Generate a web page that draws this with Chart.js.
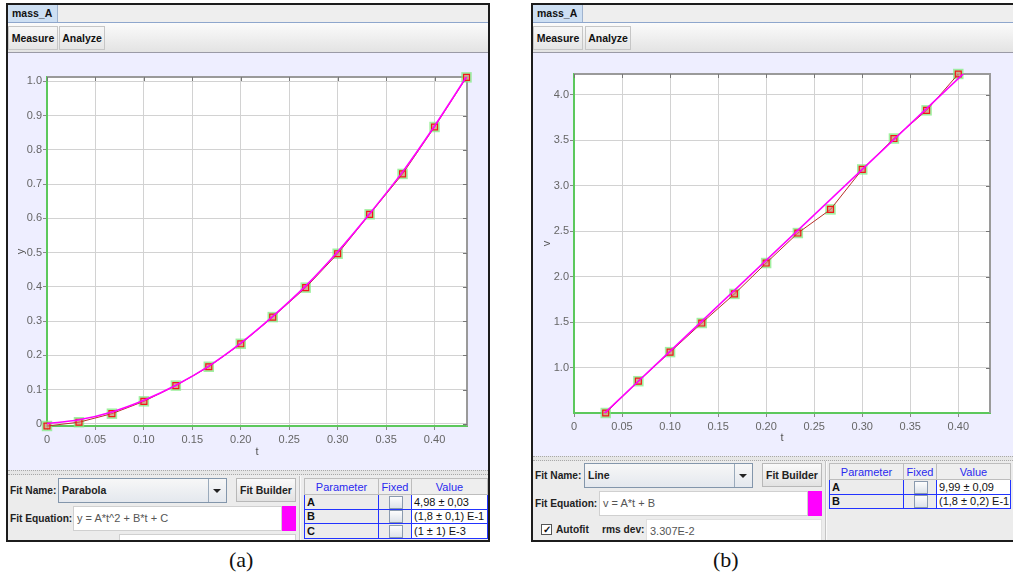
<!DOCTYPE html>
<html lang="en">
<head>
<meta charset="UTF-8">
<title>mass_A fits</title>
<script src="https://cdn.jsdelivr.net/npm/chart.js@4.4.0/dist/chart.umd.min.js"></script>
<style>
body { margin:0; width:1013px; height:582px; background:#fff; position:relative; overflow:hidden;
       font-family:"Liberation Sans", Arial, sans-serif; font-size:11px; color:#111; }
.panel { position:absolute; top:3px; height:539px; border:2px solid #1c1c1c; background:#ececec; overflow:hidden; box-sizing:border-box; }
.a { position:absolute; box-sizing:border-box; }
.tabbar { left:0; top:0; width:100%; height:18px; background:#eeeeee; border-bottom:1px solid #8ea6cc; }
.tab { left:0; top:0; width:50px; height:17px; background:#cddff3; border-right:1px solid #9fb3cf; font-weight:bold; font-size:10.5px; line-height:16px; padding-left:4px; }
.toolbar { left:0; top:18px; width:100%; height:30px; background:linear-gradient(#fbfbfb,#e3e3e3); border-bottom:1px solid #9a9aa6; }
.tbtn { top:3px; height:24px; border:1px solid #c6c6c6; font-weight:bold; font-size:10.5px; line-height:22px; text-align:center; }
.plot { left:0; top:48px; width:100%; background:#eeeeff; }
.divider { left:0; width:100%; height:5px; background:#e6e6e6; border-top:1px dotted #a8a8a8; border-bottom:1px dotted #a8a8a8; }
.lbl { font-weight:bold; font-size:10.2px; white-space:nowrap; color:#222; }
.combo { width:169px; height:25px; border:1px solid #8396ab; background:linear-gradient(#f7f7f7,#e4e8ee); font-weight:bold; font-size:10.5px; line-height:23px; padding-left:3px; color:#222; }
.combo .arr { position:absolute; right:0; top:0; width:17px; height:23px; border-left:1px solid #9aaabb; }
.combo .arr:after { content:""; position:absolute; left:4px; top:10px; border-left:4px solid transparent; border-right:4px solid transparent; border-top:4px solid #222; }
.btn { width:60px; height:24px; border:1px solid #b8b8b8; background:linear-gradient(#fafafa,#e2e2e2); font-weight:bold; font-size:10.5px; text-align:center; line-height:22px; color:#222; }
.field { height:25px; background:#fff; border:1px solid #d0d0d0; color:#555; line-height:23px; padding-left:3px; white-space:nowrap; }
.swatch { width:14px; height:25px; background:#ff00ff; }
table.par { position:absolute; border-collapse:collapse; font-size:11px; background:#ececec; table-layout:fixed; }
table.par th { height:15px; font-weight:normal; color:#2a2aee; border:1px solid #bdbdbd; background:#eeeeee; padding:0; }
table.par td { height:13px; border:1.5px solid #2233ff; padding:0 0 0 2px; white-space:nowrap; }
table.par td.p { font-weight:bold; background:#ececec; }
table.par td.f { background:#ececec; text-align:center; }
table.par td.v { background:#fff; }
.cb { display:inline-block; width:12px; height:11px; border:1px solid #8a9aae; background:linear-gradient(#fdfdfd,#dde3ea); vertical-align:middle; }
.vsplit { width:2px; border-left:1px solid #c4c4c4; border-right:1px solid #fafafa; }
.cap { position:absolute; top:547px; font-family:"Liberation Serif", "Times New Roman", serif; font-size:22px; color:#111; }
</style>
</head>
<body>

<!-- panel (a) -->
<div class="panel" style="left:6px; width:484px;">
  <div class="a tabbar"></div>
  <div class="a tab">mass_A</div>
  <div class="a toolbar">
    <div class="a tbtn" style="left:0; width:50px;">Measure</div>
    <div class="a tbtn" style="left:51px; width:46px;">Analyze</div>
  </div>
  <div class="a plot" style="height:417px;">
    <canvas id="posChart" width="480" height="417"></canvas>
  </div>
  <div class="a divider" style="top:465px;"></div>
  <div class="a lbl" style="left:2px; top:480px;">Fit Name:</div>
  <div class="a combo" style="left:50px; top:473px;">Parabola<div class="arr"></div></div>
  <div class="a btn" style="left:228px; top:473px;">Fit Builder</div>
  <div class="a lbl" style="left:2px; top:508px;">Fit Equation:</div>
  <div class="a field" style="left:65px; top:501px; width:209px;">y = A*t^2 + B*t + C</div>
  <div class="a swatch" style="left:274px; top:501px;"></div>
  <div class="a field" style="left:111px; top:529px; width:177px;"></div>
  <div class="a vsplit" style="left:291px; top:471px; height:70px;"></div>
  <table class="par" style="left:296px; top:473px; width:183px;">
    <colgroup><col style="width:74px"><col style="width:33px"><col style="width:76px"></colgroup>
    <tr><th>Parameter</th><th>Fixed</th><th>Value</th></tr>
    <tr><td class="p">A</td><td class="f"><span class="cb"></span></td><td class="v">4,98 ± 0,03</td></tr>
    <tr><td class="p">B</td><td class="f"><span class="cb"></span></td><td class="v">(1,8 ± 0,1) E-1</td></tr>
    <tr><td class="p">C</td><td class="f"><span class="cb"></span></td><td class="v">(1 ± 1) E-3</td></tr>
  </table>
</div>

<!-- panel (b) -->
<div class="panel" style="left:531px; width:486px;">
  <div class="a tabbar"></div>
  <div class="a tab">mass_A</div>
  <div class="a toolbar">
    <div class="a tbtn" style="left:0; width:50px;">Measure</div>
    <div class="a tbtn" style="left:52px; width:46px;">Analyze</div>
  </div>
  <div class="a plot" style="height:403px;">
    <canvas id="velChart" width="480" height="403"></canvas>
  </div>
  <div class="a divider" style="top:451px;"></div>
  <div class="a lbl" style="left:2px; top:465px;">Fit Name:</div>
  <div class="a combo" style="left:51px; top:458px;">Line<div class="arr"></div></div>
  <div class="a btn" style="left:229px; top:458px;">Fit Builder</div>
  <div class="a lbl" style="left:2px; top:493px;">Fit Equation:</div>
  <div class="a field" style="left:66px; top:486px; width:209px;">v = A*t + B</div>
  <div class="a swatch" style="left:275px; top:486px;"></div>
  <div class="a" style="left:8px; top:519px; width:11px; height:11px; border:1px solid #555; background:#fff; font-size:10px; line-height:9px; text-align:center; font-weight:bold;">✓</div>
  <div class="a lbl" style="left:23px; top:519px;">Autofit</div>
  <div class="a lbl" style="left:69px; top:519px;">rms dev:</div>
  <div class="a field" style="left:113px; top:514px; width:176px; height:24px; border-color:#e0e0e0;">3.307E-2</div>
  <div class="a vsplit" style="left:292px; top:456px; height:85px;"></div>
  <table class="par" style="left:296px; top:458px; width:181px;">
    <colgroup><col style="width:74px"><col style="width:33px"><col style="width:74px"></colgroup>
    <tr><th>Parameter</th><th>Fixed</th><th>Value</th></tr>
    <tr><td class="p">A</td><td class="f"><span class="cb"></span></td><td class="v">9,99 ± 0,09</td></tr>
    <tr><td class="p">B</td><td class="f"><span class="cb"></span></td><td class="v">(1,8 ± 0,2) E-1</td></tr>
  </table>
</div>

<div class="cap" style="left:229px;">(a)</div>
<div class="cap" style="left:713px;">(b)</div>

<script>
// position data (panel a)
const posT = [0, 0.033, 0.067, 0.100, 0.133, 0.167, 0.200, 0.233, 0.267, 0.300, 0.333, 0.367, 0.400, 0.433];
const posY = [-0.006, 0.005, 0.030, 0.066, 0.112, 0.167, 0.234, 0.312, 0.398, 0.497, 0.612, 0.730, 0.867, 1.012];
const posFitY = [0.001, 0.012, 0.035, 0.069, 0.113, 0.169, 0.236, 0.314, 0.403, 0.503, 0.614, 0.736, 0.870, 1.014];

// velocity data (panel b)
const velT = [0.033, 0.067, 0.100, 0.133, 0.167, 0.200, 0.233, 0.267, 0.300, 0.333, 0.367, 0.400];
const velV = [0.50, 0.85, 1.17, 1.49, 1.81, 2.15, 2.48, 2.74, 3.18, 3.52, 3.83, 4.23];
const velFitT = [0, 0.433];
const velFitV = [0.18, 4.51];

// tick labels
const tTicks = [0, 0.05, 0.10, 0.15, 0.20, 0.25, 0.30, 0.35, 0.40];
const tLabels = ['0', '0.05', '0.10', '0.15', '0.20', '0.25', '0.30', '0.35', '0.40'];
const yTicks = [0, 0.1, 0.2, 0.3, 0.4, 0.5, 0.6, 0.7, 0.8, 0.9, 1.0];
const yLabels = ['0', '0.1', '0.2', '0.3', '0.4', '0.5', '0.6', '0.7', '0.8', '0.9', '1.0'];
const vTicks = [1.0, 1.5, 2.0, 2.5, 3.0, 3.5, 4.0];
const vLabels = ['1.0', '1.5', '2.0', '2.5', '3.0', '3.5', '4.0'];

const tickFont = { family: '"Liberation Sans", Arial, sans-serif', size: 11 };

// white plot area, gray top/right frame with little inward ticks
const framePlugin = {
    id: 'frame',
    beforeDraw(chart) {
        const a = chart.chartArea;
        chart.ctx.save();
        chart.ctx.fillStyle = '#fff';
        chart.ctx.fillRect(a.left, a.top, a.right - a.left, a.bottom - a.top);
        chart.ctx.restore();
    },
    beforeDatasetsDraw(chart) {
        const ctx = chart.ctx, a = chart.chartArea, sx = chart.scales.x, sy = chart.scales.y;
        ctx.save();
        ctx.strokeStyle = '#9a9a9a';
        ctx.lineWidth = 2;
        ctx.beginPath();
        ctx.moveTo(a.left, a.top);
        ctx.lineTo(a.right, a.top);
        ctx.lineTo(a.right, a.bottom);
        ctx.stroke();
        ctx.lineWidth = 1;
        ctx.strokeStyle = '#777';
        ctx.beginPath();
        sx.ticks.forEach(t => {
            const px = Math.round(sx.getPixelForValue(t.value)) + 0.5;
            ctx.moveTo(px, a.top); ctx.lineTo(px, a.top + 4);
        });
        sy.ticks.forEach(t => {
            const py = Math.round(sy.getPixelForValue(t.value)) + 0.5;
            ctx.moveTo(a.right, py); ctx.lineTo(a.right - 4, py);
        });
        ctx.stroke();
        ctx.restore();
    }
};

function pts(xs, ys) {
    return xs.map((x, i) => ({ x: x, y: ys[i] }));
}

function makeChart(id, o) {
    const grid = { color: '#d2d2d2', lineWidth: 1, tickColor: '#888', tickLength: 4 };
    const border = { color: '#5cc85c', width: 2 };
    return new Chart(document.getElementById(id), {
        type: 'line',
        data: {
            datasets: [{
                // fit curve, on top
                data: pts(o.fitT, o.fitY),
                borderColor: '#ff00ff',
                borderWidth: 1.6,
                pointRadius: 0,
                cubicInterpolationMode: 'monotone'
            }, {
                // measured points joined by a thin line
                data: pts(o.t, o.y),
                borderColor: '#b8302a',
                borderWidth: 1,
                pointStyle: 'rect',
                pointRadius: 4.2,
                pointBackgroundColor: 'rgba(255,110,130,0.5)',
                pointBorderColor: '#f01818',
                pointBorderWidth: 1.2,
                clip: false
            }, {
                // green selection halo
                data: pts(o.t, o.y),
                showLine: false,
                pointStyle: 'rect',
                pointRadius: 7.4,
                pointBackgroundColor: 'rgba(130,235,130,0.75)',
                pointBorderWidth: 0,
                clip: false
            }]
        },
        options: {
            responsive: false,
            animation: false,
            events: [],
            layout: { padding: { top: o.padTop, right: o.padRight, left: 0, bottom: 0 } },
            plugins: { legend: { display: false }, tooltip: { enabled: false } },
            scales: {
                x: {
                    type: 'linear',
                    min: 0,
                    max: o.xMax,
                    afterBuildTicks: s => { s.ticks = tTicks.map(v => ({ value: v })); },
                    afterFit: s => { s.height = o.xAxisH; },
                    ticks: { callback: (v, i) => tLabels[i], color: '#666', font: tickFont, padding: 3, maxRotation: 0, autoSkip: false },
                    grid: grid,
                    border: border,
                    title: { display: true, text: 't', color: '#555', font: tickFont, padding: { top: 0, bottom: 11 } }
                },
                y: {
                    type: 'linear',
                    min: o.yMin,
                    max: o.yMax,
                    afterBuildTicks: s => { s.ticks = o.yTicks.map(v => ({ value: v })); },
                    afterFit: s => { s.width = o.yAxisW; },
                    ticks: { callback: (v, i) => o.yLabels[i], color: '#666', font: tickFont, padding: 1, autoSkip: false },
                    grid: grid,
                    border: border,
                    title: { display: true, text: o.yTitle, color: '#555', font: tickFont, padding: { top: o.yTitlePad, bottom: o.yTitlePad } }
                }
            }
        },
        plugins: [framePlugin]
    });
}

makeChart('posChart', {
    t: posT, y: posY, fitT: posT, fitY: posFitY,
    xMax: 0.4335, yMin: -0.006, yMax: 1.013,
    yTicks: yTicks, yLabels: yLabels, yTitle: 'y',
    padTop: 24, padRight: 21, xAxisH: 44, yAxisW: 39, yTitlePad: 6
});

makeChart('velChart', {
    t: velT, y: velV, fitT: velFitT, fitY: velFitV,
    xMax: 0.433, yMin: 0.5, yMax: 4.23,
    yTicks: vTicks, yLabels: vLabels, yTitle: 'v',
    padTop: 21, padRight: 23, xAxisH: 43, yAxisW: 41, yTitlePad: 7
});
</script>
</body>
</html>
